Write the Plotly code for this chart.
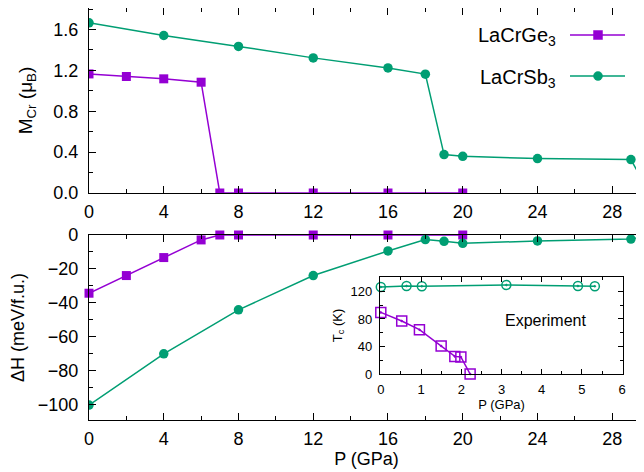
import plotly.graph_objects as go

# ---------------- data ----------------
P_ge = [0, 2, 4, 6, 7, 8, 12, 16, 20]
M_ge = [1.165, 1.14, 1.117, 1.084, 0, 0, 0, 0, 0]
dH_ge = [-34.3, -23.9, -13.3, -2.9, 0, 0, 0, 0, 0]

P_sb = [0, 4, 8, 12, 16, 18, 19, 20, 24, 29, 30]
M_sb = [1.665, 1.541, 1.434, 1.322, 1.224, 1.163, 0.376, 0.359, 0.337, 0.327, 0.0]
dH_sb = [-100.2, -70.0, -44.1, -23.9, -9.4, -2.7, -3.7, -4.9, -3.5, -2.4, 0.0]

P_ge_exp = [0, 0.52, 0.96, 1.5, 1.84, 1.99, 2.22]
Tc_ge_exp = [89.5, 77, 64.4, 40.7, 25.6, 24.7, 0]
P_sb_exp = [0, 0.64, 1.02, 3.12, 4.9, 5.32]
Tc_sb_exp = [126.5, 128, 127.5, 129.4, 128, 127.5]

names = ["LaCrGe<sub>3</sub>", "LaCrSb<sub>3</sub>"]
main_ticks_x = [0, 4, 8, 12, 16, 20, 24, 28]

# ---------------- style ----------------
PURPLE = "#9400D3"
GREEN = "#009E73"
FONT = "Liberation Sans, Arial, sans-serif"
OFF = 8                      # page body margin
W, H = 644 - OFF, 472 - OFF
L, R, T, B = 89 - OFF, 0, 0, 52
PW, PH = W - L - R, H - T - B


def px_x(px):
    """page pixel x -> paper fraction"""
    return (px - OFF - L) / PW


def px_y(py):
    """page pixel y -> paper fraction"""
    return (H - B - (py - OFF)) / PH


fig = go.Figure()

# top panel
fig.add_trace(go.Scatter(x=P_ge, y=M_ge, mode="lines+markers", xaxis="x", yaxis="y",
                         line=dict(color=PURPLE, width=1.5),
                         marker=dict(symbol="square", size=9, color=PURPLE), showlegend=False))
fig.add_trace(go.Scatter(x=P_sb, y=M_sb, mode="lines+markers", xaxis="x", yaxis="y",
                         line=dict(color=GREEN, width=1.5),
                         marker=dict(symbol="circle", size=9.5, color=GREEN), showlegend=False))
# bottom panel
fig.add_trace(go.Scatter(x=P_ge, y=dH_ge, mode="lines+markers", xaxis="x2", yaxis="y2",
                         line=dict(color=PURPLE, width=1.5),
                         marker=dict(symbol="square", size=9, color=PURPLE), showlegend=False,
                         cliponaxis=False))
fig.add_trace(go.Scatter(x=P_sb, y=dH_sb, mode="lines+markers", xaxis="x2", yaxis="y2",
                         line=dict(color=GREEN, width=1.5),
                         marker=dict(symbol="circle", size=9.5, color=GREEN), showlegend=False))
# inset
fig.add_trace(go.Scatter(x=P_sb_exp, y=Tc_sb_exp, mode="lines+markers", xaxis="x3", yaxis="y3",
                         line=dict(color=GREEN, width=1.5),
                         marker=dict(symbol="circle-open-dot", size=9, color=GREEN,
                                     line=dict(width=1.5)), showlegend=False, cliponaxis=False))
fig.add_trace(go.Scatter(x=P_ge_exp, y=Tc_ge_exp, mode="lines+markers", xaxis="x3", yaxis="y3",
                         line=dict(color=PURPLE, width=1.5),
                         marker=dict(symbol="square-open-dot", size=10, color=PURPLE,
                                     line=dict(width=1.5)), showlegend=False, cliponaxis=False))

axis_common = dict(showline=True, linecolor="black", linewidth=1.2, mirror="ticks",
                   ticks="inside", ticklen=7, tickwidth=1, tickcolor="black",
                   showgrid=False, zeroline=False, automargin=False,
                   tickfont=dict(family=FONT, size=18, color="black"))

top_dom = [px_y(193), min(1.0, px_y(7))]
bot_dom = [px_y(420), px_y(235)]

fig.update_layout(
    width=W, height=H,
    margin=dict(l=L, r=R, t=T, b=B, autoexpand=False),
    paper_bgcolor="white", plot_bgcolor="white",
    font=dict(family=FONT, color="black"),
    xaxis=dict(axis_common, domain=[0, 1], anchor="y", range=[0, 29.7],
               tickvals=main_ticks_x, ticklabelstandoff=2,
               minor=dict(dtick=2, ticklen=4, ticks="inside", tickcolor="black")),
    yaxis=dict(axis_common, domain=top_dom, anchor="x", range=[0, 1.81],
               tickvals=[0, 0.4, 0.8, 1.2, 1.6], ticktext=["0.0", "0.4", "0.8", "1.2", "1.6"],
               ticklabelstandoff=6,
               minor=dict(dtick=0.2, ticklen=4, ticks="inside", tickcolor="black"),
               title=dict(text="M<sub>Cr</sub> (μ<sub>B</sub>)", standoff=15,
                          font=dict(family=FONT, size=19, color="black"))),
    xaxis2=dict(axis_common, domain=[0, 1], anchor="y2", range=[0, 29.7],
                tickvals=main_ticks_x, ticklabelstandoff=2,
                minor=dict(dtick=2, ticklen=4, ticks="inside", tickcolor="black"),
                title=dict(text="P (GPa)", standoff=0,
                           font=dict(family=FONT, size=18, color="black"))),
    yaxis2=dict(axis_common, domain=bot_dom, anchor="x2", range=[-109, 0],
                tickvals=[-100, -80, -60, -40, -20, 0],
                ticktext=["\u2212100", "\u221280", "\u221260", "\u221240", "\u221220", "0"],
                ticklabelstandoff=6,
                minor=dict(dtick=10, ticklen=4, ticks="inside", tickcolor="black"),
                title=dict(text="\u0394H (meV/f.u.)", standoff=11,
                           font=dict(family=FONT, size=18, color="black"))),
    xaxis3=dict(axis_common, domain=[px_x(380), px_x(623)], anchor="y3", range=[-0.02, 6.02],
                tickvals=[0, 1, 2, 3, 4, 5, 6], ticklen=5, ticklabelstandoff=3,
                tickfont=dict(family=FONT, size=13, color="black"),
                minor=dict(dtick=0.5, ticklen=3, ticks="inside", tickcolor="black"),
                title=dict(text="P (GPa)", standoff=3,
                           font=dict(family=FONT, size=13, color="black"))),
    yaxis3=dict(axis_common, domain=[px_y(374), px_y(277)], anchor="x3", range=[0, 141],
                tickvals=[0, 40, 80, 120], ticklen=5, ticklabelstandoff=4,
                tickfont=dict(family=FONT, size=13, color="black"),
                minor=dict(dtick=20, ticklen=3, ticks="inside", tickcolor="black"),
                title=dict(text="T<sub>c</sub> (K)", standoff=5,
                           font=dict(family=FONT, size=13, color="black"))),
)

# inset white background
fig.add_shape(type="rect", xref="paper", yref="paper",
              x0=px_x(380), x1=px_x(623), y0=px_y(374), y1=px_y(277),
              fillcolor="white", line=dict(width=0), layer="below")

# "Experiment" label
fig.add_annotation(x=px_x(545), y=px_y(320), xref="paper", yref="paper",
                   text="Experiment", showarrow=False, xanchor="center", yanchor="middle",
                   font=dict(family=FONT, size=16, color="black"))

# custom legend (text left, sample right)
legend_rows = [(names[0], PURPLE, "square", 35), (names[1], GREEN, "circle", 76)]
for name, col, sym, py in legend_rows:
    fig.add_annotation(x=px_x(558), y=px_y(py + 2), xref="paper", yref="paper",
                       text=name, showarrow=False, xanchor="right", yanchor="middle",
                       font=dict(family=FONT, size=20, color="black"))
    fig.add_shape(type="line", xref="paper", yref="paper",
                  x0=px_x(570), x1=px_x(625), y0=px_y(py), y1=px_y(py),
                  line=dict(color=col, width=1.5))
    half = 4.5
    shape_type = "rect" if sym == "square" else "circle"
    fig.add_shape(type=shape_type, xref="paper", yref="paper",
                  x0=px_x(598 - half), x1=px_x(598 + half),
                  y0=px_y(py + half), y1=px_y(py - half),
                  fillcolor=col, line=dict(color=col, width=0.5))

fig.write_html("out.html")
